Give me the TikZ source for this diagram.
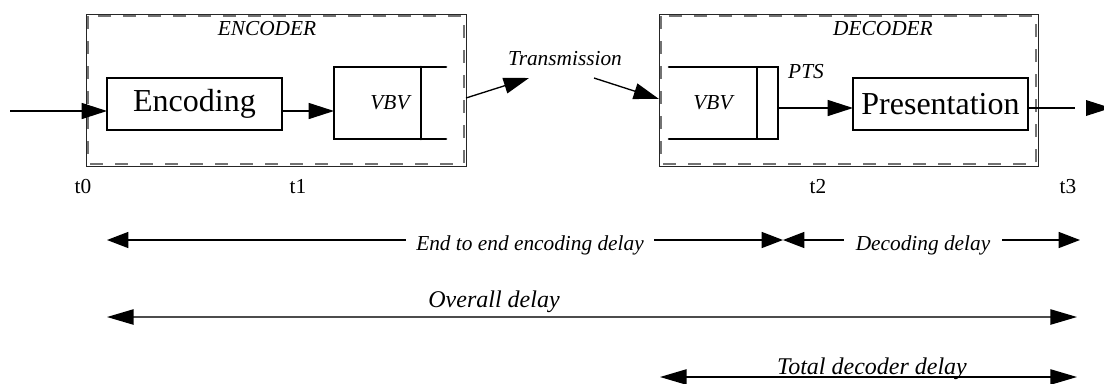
\documentclass[tikz,border=0pt]{standalone}
\usepackage{fontspec}
\setmainfont{Liberation Serif}
\usetikzlibrary{arrows.meta,calc}
\tikzset{
  >={Triangle[length=19pt,width=12pt]},
  frame/.style={draw=black!85, line width=0.75pt, inner sep=0pt, outer sep=0pt},
  frameinner/.style={draw=black!55, line width=1.1pt, dash pattern=on 9.75pt off 9pt},
  block/.style={draw, line width=2pt, inner sep=0pt, outer sep=0pt,
    font=\fontsize{24}{28}\selectfont},
  bufnode/.style={inner sep=0pt, outer sep=0pt, font=\fontsize{16}{19}\itshape\selectfont},
  bufline/.style={line width=2pt, line cap=round},
  conn/.style={line width=1pt, ->},
  lbl/.style={font=\fontsize{16}{19}\itshape\selectfont, anchor=base, inner sep=0pt},
  timelbl/.style={font=\fontsize{16}{19}\selectfont, anchor=base, inner sep=0pt},
  spanlbl/.style={font=\fontsize{16}{19}\itshape\selectfont, anchor=base, fill=white,
    inner ysep=1pt},
  biglbl/.style={font=\fontsize{18}{22}\itshape\selectfont, anchor=base, inner sep=0pt},
  span/.style={line width=1pt, {Triangle[length=16pt,width=12pt]}-{Triangle[length=16pt,width=12pt]}},
  longspan/.style={line width=1.1pt,
    {Triangle[length=20pt,width=11.5pt,color=black]}-{Triangle[length=20pt,width=11.5pt,color=black]}}
}
\begin{document}
\begin{tikzpicture}[x=0.75pt,y=-0.75pt]
\useasboundingbox (0,0) rectangle (1104,383);

% encoder frame
\node[frame, minimum width=285pt, minimum height=114pt] (encbox) at (276,90) {};
\draw[frameinner] ([shift={(2,2)}]encbox.north west) rectangle ([shift={(-2,-2)}]encbox.south east);
\node[lbl] (enctitle) at (267,35) {ENCODER};

% decoder frame
\node[frame, minimum width=284.25pt, minimum height=114pt] (decbox) at (848.5,90) {};
\draw[frameinner] ([shift={(2,2)}]decbox.north west) rectangle ([shift={(-2,-2)}]decbox.south east);
\node[lbl] (dectitle) at (883,35) {DECODER};

% encoder blocks
\node[block, minimum width=131.25pt, minimum height=39pt] (enc) at (194.5,104) {Encoding};
\node[bufnode, minimum width=84pt, minimum height=54pt] (vbve) at (390,103) {VBV};
\draw[bufline] (vbve.north east) -- (vbve.north west) -- (vbve.south west) -- (vbve.south east);
\draw[bufline] ($(vbve.north east)+(-25,0)$) -- ($(vbve.south east)+(-25,0)$);

% decoder blocks
\node[bufnode, minimum width=66pt, minimum height=54pt] (vbvd) at (713,103) {VBV};
\node[draw, line width=2pt, inner sep=0pt, outer sep=0pt, minimum width=15.75pt,
      minimum height=54pt] (ptsbox) at (767.5,103) {};
\draw[bufline] (vbvd.north west) -- (vbvd.north east);
\draw[bufline] (vbvd.south west) -- (vbvd.south east);
\node[lbl] (pts) at (806,78) {PTS};
\node[block, minimum width=131.25pt, minimum height=39pt] (pres) at (940.5,104) {Presentation};

% signal path
\coordinate (in) at (10,111);
\coordinate (tx1) at (529,78);
\coordinate (tx2) at (594,78);
\coordinate (dout) at (0,108);
\coordinate (outgap) at (1075,108);
\coordinate (out) at (1111,108);
\draw[conn] (in) -- (enc.west |- in);
\draw[conn] (enc.east |- in) -- (vbve.west |- in);
\draw[conn] ([yshift=-6pt]encbox.east) -- (tx1);
\node[lbl] (txlbl) at (565,65) {Transmission};
\draw[conn] (tx2) -- ([yshift=-6.75pt]decbox.west);
\draw[conn] (ptsbox.east |- dout) -- (pres.west |- dout);
\draw[line width=1pt] (pres.east |- dout) -- (outgap);
\fill ($(out)+(-25,-8)$) -- (out) -- ($(out)+(-25,8)$) -- cycle;

% time instants
\node[timelbl] (t0) at (83,193) {t0};
\node[timelbl] (t1) at (298,193) {t1};
\node[timelbl] (t2) at (818,193) {t2};
\node[timelbl] (t3) at (1068,193) {t3};

% delay spans
\coordinate (s0) at (107,240);
\coordinate (s2) at (783,240);
\coordinate (s3) at (1080,240);
\draw[span] (s0) -- (s2);
\draw[span] (s2) -- (s3);
\node[spanlbl, inner xsep=7.5pt] (e2e) at (530,250) {End to end encoding delay};
\node[spanlbl, inner xsep=8.5pt] (decd) at (923,250) {Decoding delay};

\coordinate (o0) at (107,317);
\coordinate (o3) at (1077,317);
\draw[longspan, draw=black!70] (o0) -- (o3);
\node[biglbl] (overall) at (494,307) {Overall delay};

\coordinate (d0) at (660,377);
\coordinate (d3) at (1077,377);
\draw[longspan] (d0) -- (d3);
\node[biglbl] (totdec) at (872,374) {Total decoder delay};
\end{tikzpicture}
\end{document}
